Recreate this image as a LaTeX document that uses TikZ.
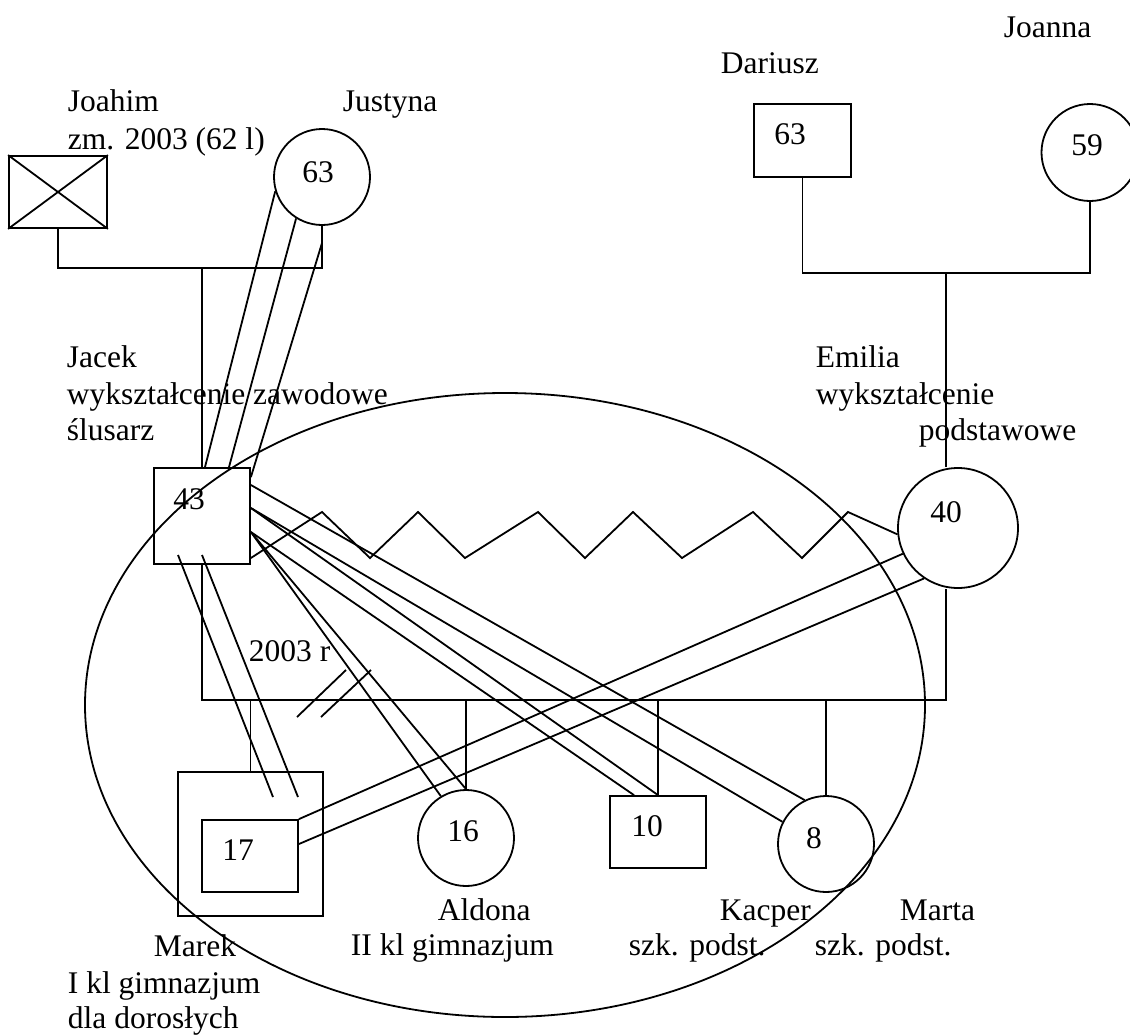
\documentclass[tikz,border=0pt]{standalone}
\usepackage{fontspec}
\setmainfont{Liberation Serif}
\usetikzlibrary{calc}
\begin{document}
\begin{tikzpicture}[x=1pt,y=-1pt,line width=1.8pt,
  txt/.style={anchor=base west,inner sep=0pt,font=\fontsize{31.5}{38}\selectfont},
  num/.style={anchor=center,inner sep=0pt,font=\fontsize{31.5}{38}\selectfont},
  boxnode/.style={draw,rectangle,inner sep=0pt},
  circnode/.style={draw,circle,inner sep=0pt}]
\useasboundingbox (0,0) rectangle (1130,1034);
\fill[white] (0,0) rectangle (1130,1034);

% ---- grandparents (father side)
\node[boxnode,minimum width=98pt,minimum height=72pt] (joahim) at (58,192) {};
\draw (joahim.north west) -- (joahim.south east) (joahim.south west) -- (joahim.north east);
\node[circnode,minimum size=96pt] (justyna) at (322,177) {};
\node[num] (njustyna) at (318,172) {63};
\node[txt] (tjoahim1) at (67,111) {Joahim};
\node[txt] (tjoahim2) at (67,149) {zm. 2003 (62 l)};
\node[txt] (tjustyna) at (342,111) {Justyna};

% ---- grandparents (mother side)
\node[boxnode,minimum width=97pt,minimum height=73pt] (dariusz) at (802.5,140.5) {};
\node[num] (ndariusz) at (790,134) {63};
\node[circnode,minimum size=97pt] (joanna) at (1090,152.5) {};
\node[num] (njoanna) at (1087,145) {59};
\node[txt] (tdariusz) at (720,73) {Dariusz};
\node[txt] (tjoanna) at (1003,37) {Joanna};

% ---- ellipse (household)
\draw (505,705) ellipse [x radius=420, y radius=312];

% ---- parents
\node[boxnode,minimum width=96pt,minimum height=96pt] (jacek) at (202,516) {};
\node[num] (njacek) at (189,499) {43};
\node[circnode,minimum size=120pt] (emilia) at (958,528) {};
\node[num] (nemilia) at (946,512) {40};
\node[txt] (tjacek1) at (66,367) {Jacek};
\node[txt] (tjacek2) at (66,404) {wykształcenie zawodowe};
\node[txt] (tjacek3) at (66,440) {ślusarz};
\node[txt] (temilia1) at (815,367) {Emilia};
\node[txt] (temilia2) at (815,404) {wykształcenie};
\node[txt] (temilia3) at (918,440) {podstawowe};

% ---- children
\node[boxnode,minimum width=145pt,minimum height=144pt] (marekout) at (250.5,844) {};
\node[boxnode,minimum width=96pt,minimum height=72pt] (marekin) at (250,856) {};
\node[num] (nmarek) at (238,850) {17};
\node[circnode,minimum size=96pt] (aldona) at (466,838) {};
\node[num] (naldona) at (463,831) {16};
\node[boxnode,minimum width=96pt,minimum height=72pt] (kacper) at (658,832) {};
\node[num] (nkacper) at (647,826) {10};
\node[circnode,minimum size=96pt] (marta) at (826,844) {};
\node[num] (nmarta) at (814,838) {8};

\node[txt] (tmarek1) at (153,956) {Marek};
\node[txt] (tmarek2) at (67,993) {I kl gimnazjum};
\node[txt] (tmarek3) at (67,1028) {dla dorosłych};
\node[txt] (taldona1) at (437,920) {Aldona};
\node[txt] (taldona2) at (350,955) {II kl gimnazjum};
\node[txt] (tkacper1) at (719,920) {Kacper};
\node[txt] (tkacper2) at (628,955) {szk. podst.};
\node[txt] (tmarta1) at (899,920) {Marta};
\node[txt] (tmarta2) at (814,955) {szk. podst.};
\node[txt] (t2003) at (248,661) {2003 r};

% ---- genealogy lines
\coordinate (m1) at (202,268);
\draw (joahim.south) |- (m1) -| (justyna.south);
\draw (m1) -- (jacek.north);
\coordinate (m2) at (946,273);
\draw (dariusz.south) |- (m2) -| (joanna.south);
\draw (m2) -- (m2 |- emilia.north);

\coordinate (s1) at (202,700);
\coordinate (s2) at (946,700);
\draw (jacek.south) -- (s1) -- (s2) -- (s2 |- emilia.south);
\draw (marekout.north |- s1) -- (marekout.north);
\draw (aldona.north |- s1) -- (aldona.north);
\draw (kacper.north |- s1) -- (kacper.north);
\draw (marta.north |- s1) -- (marta.north);

% divorce marks
\coordinate (d1a) at (297,717); \coordinate (d1b) at (346,670);
\coordinate (d2a) at (321,717); \coordinate (d2b) at (371,670);
\draw (d1a) -- (d1b);
\draw (d2a) -- (d2b);

% ---- relation lines Justyna - Jacek
\coordinate (jv) at (322,243);
\draw (justyna.197) -- ([xshift=3pt]jacek.north);
\draw (justyna.238) -- ([xshift=27pt]jacek.north);
\draw (jv) -- ([yshift=-10pt]jacek.north east);

% ---- conflict zigzag Jacek - Emilia
\draw ([yshift=-42pt]jacek.east) -- (322,512) -- (370,558) -- (418,512) -- (465,558)
  -- (538,512) -- (585,558) -- (633,512) -- (682,558) -- (753,512) -- (802,558)
  -- (848,512) -- (emilia.186);

% ---- Jacek - children
\draw ([yshift=31pt]jacek.east) -- (marta.116);
\draw ([yshift=8pt]jacek.east) -- (marta.153);
\draw ([yshift=8pt]jacek.east) -- (kacper.north);
\draw ([yshift=-16pt]jacek.east) -- ([xshift=-24pt]kacper.north);
\draw ([yshift=-16pt]jacek.east) -- (aldona.121);
\draw ([yshift=-16pt]jacek.east) -- (aldona.north);
\coordinate (jb1) at (178,555); \coordinate (jb2) at (202,555);
\coordinate (mk1) at (273,797); \coordinate (mk2) at (298,797);
\draw (jb1) -- (mk1);
\draw (jb2) -- (mk2);

% ---- Emilia - Marek
\draw (emilia.205) -- (marekin.north east);
\draw (emilia.236) -- ([yshift=12pt]marekin.east);
\end{tikzpicture}
\end{document}
